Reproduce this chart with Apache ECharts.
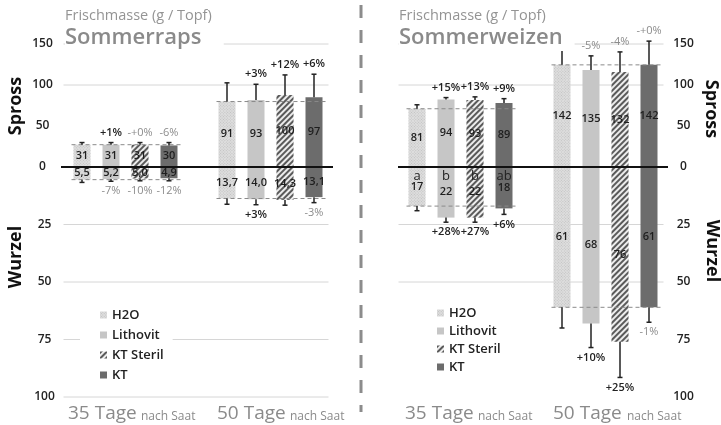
<!DOCTYPE html>
<html><head><meta charset="utf-8">
<script src="https://cdn.jsdelivr.net/npm/echarts@6/dist/echarts.min.js"></script>
<style>html,body{margin:0;padding:0;background:#fff}#c{width:721px;height:425px}</style>
</head><body><div id="c"></div><script>
// ---------- data ----------
const categories = ['H2O 35', 'Lithovit 35', 'KT Steril 35', 'KT 35', '', 'H2O 50', 'Lithovit 50', 'KT Steril 50', 'KT 50'];
const treatments = ['H2O', 'Lithovit', 'KT Steril', 'KT'];

// Sommerraps
const rapsSpross35 = [31, 31, 31, 30];
const rapsSpross50 = [91, 93, 100, 97];
const rapsSprossErr35 = [3, 3, 3, 4];
const rapsSprossErr50 = [26, 22, 28, 32];
const rapsSprossPct35 = ['', '+1%', '-+0%', '-6%'];
const rapsSprossPct50 = ['', '+3%', '+12%', '+6%'];
const rapsWurzel35 = [5.5, 5.2, 5.0, 4.9];
const rapsWurzel50 = [13.7, 14.0, 14.3, 13.1];
const rapsWurzelErr35 = [1.2, 1.0, 1.0, 1.1];
const rapsWurzelErr50 = [2.5, 2.4, 2.3, 2.4];
const rapsWurzelPct35 = ['', '-7%', '-10%', '-12%'];
const rapsWurzelPct50 = ['', '+3%', '', '-3%'];

// Sommerweizen
const weizenSpross35 = [81, 94, 93, 89];
const weizenSpross50 = [142, 135, 132, 142];
const weizenSprossErr35 = [5.5, 2.5, 4.5, 6];
const weizenSprossErr50 = [22, 19.5, 28, 33];
const weizenSprossPct35 = ['', '+15%', '+13%', '+9%'];
const weizenSprossPct50 = ['', '-5%', '-4%', '-+0%'];
const weizenWurzel35 = [17, 22, 22, 18];
const weizenWurzel50 = [61, 68, 76, 61];
const weizenWurzelErr35 = [2, 2, 2, 2.6];
const weizenWurzelErr50 = [9, 10.5, 15.5, 6.5];
const weizenWurzelPct35 = ['', '+28%', '+27%', '+6%'];
const weizenWurzelPct50 = ['', '+10%', '+25%', '-1%'];
const weizenLetters35 = ['a', 'b', 'b', 'ab'];

// axis ticks
const sprossTickMin = 0, sprossTickMax = 150, sprossTickStep = 50;
const wurzelTickMin = 0, wurzelTickMax = 100, wurzelTickStep = 25;
const sprossGridLines = [100, 150];
const rapsWurzelGridLines = [25, 50, 75, 100];
const weizenWurzelGridLines = [25, 50];

// ---------- styling ----------
const FONT = 'Open Sans';
const SPROSS_BAR_MAX = 171;
const BAR_W = 17;
const treatmentStyles = [
  { color: '#dedede', decal: { symbol: 'rect', symbolSize: 1, dashArrayX: [1, 1], dashArrayY: [1, 1], rotation: Math.PI / 4, color: 'rgba(170,170,170,0.55)' } },
  { color: '#c6c6c6' },
  { color: '#ececec', decal: { symbol: 'rect', symbolSize: 1, dashArrayX: [1, 0], dashArrayY: [1.5, 2], rotation: -Math.PI / 4, color: '#5a5a5a' } },
  { color: '#6c6c6c' }
];

function pairs(v35, v50, t) { return [[t, v35[t]], [5 + t, v50[t]]]; }

const series = [];
// gridlines
function gridLineSeries(g, yIdx, vals) {
  return {
    type: 'custom', xAxisIndex: g, yAxisIndex: yIdx, z: 1, silent: true,
    data: vals.map(v => [0, v]),
    renderItem: (params, api) => {
      const cs = params.coordSys;
      const y = api.coord([0, api.value(1)])[1];
      return { type: 'line', shape: { x1: cs.x - 4, y1: y, x2: cs.x + cs.width, y2: y }, style: { stroke: '#d6d6d6', lineWidth: 1 } };
    }
  };
}
series.push(gridLineSeries(0, 1, sprossGridLines));
series.push(gridLineSeries(1, 2, rapsWurzelGridLines));
series.push(gridLineSeries(2, 4, sprossGridLines));
series.push(gridLineSeries(3, 5, weizenWurzelGridLines));

const panels = [
  { g: 0, y: 0, v35: rapsSpross35, v50: rapsSpross50, e35: rapsSprossErr35, e50: rapsSprossErr50, p35: rapsSprossPct35, p50: rapsSprossPct50, dir: -1, dec: false },
  { g: 1, y: 2, v35: rapsWurzel35, v50: rapsWurzel50, e35: rapsWurzelErr35, e50: rapsWurzelErr50, p35: rapsWurzelPct35, p50: rapsWurzelPct50, dir: 1, dec: true },
  { g: 2, y: 3, v35: weizenSpross35, v50: weizenSpross50, e35: weizenSprossErr35, e50: weizenSprossErr50, p35: weizenSprossPct35, p50: weizenSprossPct50, dir: -1, dec: false },
  { g: 3, y: 5, v35: weizenWurzel35, v50: weizenWurzel50, e35: weizenWurzelErr35, e50: weizenWurzelErr50, p35: weizenWurzelPct35, p50: weizenWurzelPct50, dir: 1, dec: false, letters: weizenLetters35 }
];

panels.forEach(P => {
  treatments.forEach((name, t) => {
    series.push({
      type: 'bar', name: name, xAxisIndex: P.g, yAxisIndex: P.y,
      barWidth: BAR_W, barGap: '-100%', z: 2,
      data: pairs(P.v35, P.v50, t),
      itemStyle: treatmentStyles[t],
      label: {
        show: true, position: 'inside', fontFamily: FONT, fontSize: 11, fontWeight: 600, color: '#1e1e1e',
        formatter: p => P.dec ? p.value[1].toFixed(1).replace('.', ',') : String(p.value[1])
      }
    });
  });
  // dashed reference line at H2O level
  series.push({
    type: 'custom', xAxisIndex: P.g, yAxisIndex: P.y, z: 3, silent: true,
    data: [[0, P.v35[0]], [5, P.v50[0]]],
    renderItem: (params, api) => {
      const x = api.value(0), v = api.value(1);
      const a = api.coord([x, v]), b = api.coord([x + 3, v]);
      return { type: 'line', shape: { x1: a[0] - BAR_W / 2 - 2, y1: a[1], x2: b[0] + BAR_W / 2 + 5, y2: b[1] },
        style: { stroke: '#8a8a8a', lineWidth: 1, lineDash: [4, 3] } };
    }
  });
  // error bars, percent labels, letters
  const items = [];
  treatments.forEach((n, t) => items.push({ x: t, v: P.v35[t], e: P.e35[t], pct: P.p35[t], letter: P.letters ? P.letters[t] : '' }));
  treatments.forEach((n, t) => items.push({ x: 5 + t, v: P.v50[t], e: P.e50[t], pct: P.p50[t], letter: '' }));
  series.push({
    type: 'custom', xAxisIndex: P.g, yAxisIndex: P.y, z: 4, silent: true,
    data: items.map(it => [it.x, it.v, it.e]),
    renderItem: (params, api) => {
      const it = items[params.dataIndex];
      const p0 = api.coord([it.x, it.v]);
      const p1 = api.coord([it.x, it.v + it.e]);
      const ch = [
        { type: 'line', shape: { x1: p0[0], y1: p0[1], x2: p1[0], y2: p1[1] }, style: { stroke: '#222', lineWidth: 1.5 } },
        { type: 'line', shape: { x1: p1[0] - 2.5, y1: p1[1], x2: p1[0] + 2.5, y2: p1[1] }, style: { stroke: '#222', lineWidth: 1.5 } }
      ];
      if (it.pct) {
        const pos = it.pct.charAt(0) === '+';
        ch.push({ type: 'text', style: { x: p1[0], y: p1[1] + P.dir * 10, text: it.pct, align: 'center', verticalAlign: 'middle',
          fontFamily: FONT, fontSize: 11, fontWeight: pos ? 600 : 400, fill: pos ? '#222' : '#8c8c8c' } });
      }
      if (it.letter) {
        const z0 = api.coord([it.x, 0]);
        ch.push({ type: 'text', style: { x: z0[0], y: z0[1] + 9, text: it.letter, align: 'center', verticalAlign: 'middle',
          fontFamily: FONT, fontSize: 13, fill: '#222' } });
      }
      return { type: 'group', children: ch };
    }
  });
});

const tickLabel = { fontFamily: FONT, fontSize: 12, fontWeight: 600, color: '#222', align: 'center' };
const hiddenX = g => ({ gridIndex: g, type: 'category', data: categories, show: false });
const zeroX = g => ({ gridIndex: g, type: 'category', data: categories, position: 'bottom',
  axisLine: { show: true, lineStyle: { color: '#111', width: 2 } }, axisTick: { show: false }, axisLabel: { show: false }, splitLine: { show: false }, z: 5 });

const titleText = { fontFamily: FONT, fontSize: 14.5, fontWeight: 'normal', color: '#949494' };
const titleSub = { fontFamily: FONT, fontSize: 22, fontWeight: 600, color: '#8a8a8a' };
const legendText = { fontFamily: FONT, fontSize: 13, fontWeight: 600, color: '#222', lineHeight: 14 };

const option = {
  backgroundColor: '#fff',
  animation: false,
  textStyle: { fontFamily: FONT },
  title: [
    { left: 65, top: 6, text: 'Frischmasse (g / Topf)', subtext: 'Sommerraps', itemGap: 4, padding: [2, 12, 2, 0], backgroundColor: '#fff',
      textStyle: titleText, subtextStyle: titleSub },
    { left: 399, top: 6, text: 'Frischmasse (g / Topf)', subtext: 'Sommerweizen', itemGap: 4, padding: [2, 12, 2, 0], backgroundColor: '#fff',
      textStyle: titleText, subtextStyle: titleSub }
  ],
  legend: [
    { data: treatments, orient: 'vertical', left: 80, top: 302, icon: 'rect', itemWidth: 7, itemHeight: 7, itemGap: 6,
      padding: [6, 9, 6, 20], backgroundColor: '#fff', textStyle: legendText },
    { data: treatments, orient: 'vertical', left: 434, top: 300, icon: 'rect', itemWidth: 7, itemHeight: 7, itemGap: 4,
      padding: [6, 6, 6, 3], backgroundColor: '#fff', textStyle: legendText }
  ],
  grid: [
    { left: 67.5, top: 44, width: 261, height: 123 },
    { left: 67.5, top: 167, width: 261, height: 230 },
    { left: 402.5, top: 44, width: 261, height: 123 },
    { left: 402.5, top: 167, width: 261, height: 230 }
  ],
  xAxis: [zeroX(0), hiddenX(1), zeroX(2), hiddenX(3)],
  yAxis: [
    { gridIndex: 0, type: 'value', min: 0, max: SPROSS_BAR_MAX, show: false },
    { gridIndex: 0, type: 'value', min: sprossTickMin, max: sprossTickMax, interval: sprossTickStep, position: 'left',
      axisLine: { show: false }, axisTick: { show: false }, splitLine: { show: false }, axisLabel: Object.assign({ margin: 25 }, tickLabel) },
    { gridIndex: 1, type: 'value', inverse: true, min: wurzelTickMin, max: wurzelTickMax, interval: wurzelTickStep, position: 'left',
      axisLine: { show: false }, axisTick: { show: false }, splitLine: { show: false }, axisLabel: Object.assign({ margin: 23, showMinLabel: false }, tickLabel) },
    { gridIndex: 2, type: 'value', min: 0, max: SPROSS_BAR_MAX, show: false },
    { gridIndex: 2, type: 'value', min: sprossTickMin, max: sprossTickMax, interval: sprossTickStep, position: 'right',
      axisLine: { show: false }, axisTick: { show: false }, splitLine: { show: false }, axisLabel: Object.assign({ margin: 20 }, tickLabel) },
    { gridIndex: 3, type: 'value', inverse: true, min: wurzelTickMin, max: wurzelTickMax, interval: wurzelTickStep, position: 'right',
      axisLine: { show: false }, axisTick: { show: false }, splitLine: { show: false }, axisLabel: Object.assign({ margin: 20, showMinLabel: false }, tickLabel) }
  ],
  graphic: [
    { type: 'line', z: 0, shape: { x1: 361, y1: 5, x2: 361, y2: 412 }, style: { stroke: '#8c8c8c', lineWidth: 3, lineDash: [13, 12] } },
    { type: 'line', z: 5, shape: { x1: 61, y1: 167, x2: 333, y2: 167 }, style: { stroke: '#111', lineWidth: 2 } },
    { type: 'line', z: 5, shape: { x1: 398, y1: 167, x2: 668, y2: 167 }, style: { stroke: '#111', lineWidth: 2 } },
    { type: 'text', x: 16, y: 106, rotation: Math.PI / 2, style: { text: 'Spross', align: 'center', verticalAlign: 'middle', fontFamily: FONT, fontSize: 18, fontWeight: 'bold', fill: '#111' } },
    { type: 'text', x: 16, y: 257, rotation: Math.PI / 2, style: { text: 'Wurzel', align: 'center', verticalAlign: 'middle', fontFamily: FONT, fontSize: 18, fontWeight: 'bold', fill: '#111' } },
    { type: 'text', x: 711, y: 109, rotation: -Math.PI / 2, style: { text: 'Spross', align: 'center', verticalAlign: 'middle', fontFamily: FONT, fontSize: 18, fontWeight: 'bold', fill: '#111' } },
    { type: 'text', x: 712, y: 251, rotation: -Math.PI / 2, style: { text: 'Wurzel', align: 'center', verticalAlign: 'middle', fontFamily: FONT, fontSize: 18, fontWeight: 'bold', fill: '#111' } },
    { type: 'text', x: 68, y: 414, style: { text: '35 Tage', verticalAlign: 'middle', fontFamily: FONT, fontSize: 19, fill: '#8a8a8a' } },
    { type: 'text', x: 141, y: 417, style: { text: 'nach Saat', verticalAlign: 'middle', fontFamily: FONT, fontSize: 12, fill: '#8a8a8a' } },
    { type: 'text', x: 217, y: 414, style: { text: '50 Tage', verticalAlign: 'middle', fontFamily: FONT, fontSize: 19, fill: '#8a8a8a' } },
    { type: 'text', x: 290, y: 417, style: { text: 'nach Saat', verticalAlign: 'middle', fontFamily: FONT, fontSize: 12, fill: '#8a8a8a' } },
    { type: 'text', x: 405, y: 414, style: { text: '35 Tage', verticalAlign: 'middle', fontFamily: FONT, fontSize: 19, fill: '#8a8a8a' } },
    { type: 'text', x: 478, y: 417, style: { text: 'nach Saat', verticalAlign: 'middle', fontFamily: FONT, fontSize: 12, fill: '#8a8a8a' } },
    { type: 'text', x: 553, y: 414, style: { text: '50 Tage', verticalAlign: 'middle', fontFamily: FONT, fontSize: 19, fill: '#8a8a8a' } },
    { type: 'text', x: 627, y: 417, style: { text: 'nach Saat', verticalAlign: 'middle', fontFamily: FONT, fontSize: 12, fill: '#8a8a8a' } }
  ],
  series: series
};

const chart = echarts.init(document.getElementById('c'), null, { renderer: 'canvas' });
chart.setOption(option);
</script></body></html>
